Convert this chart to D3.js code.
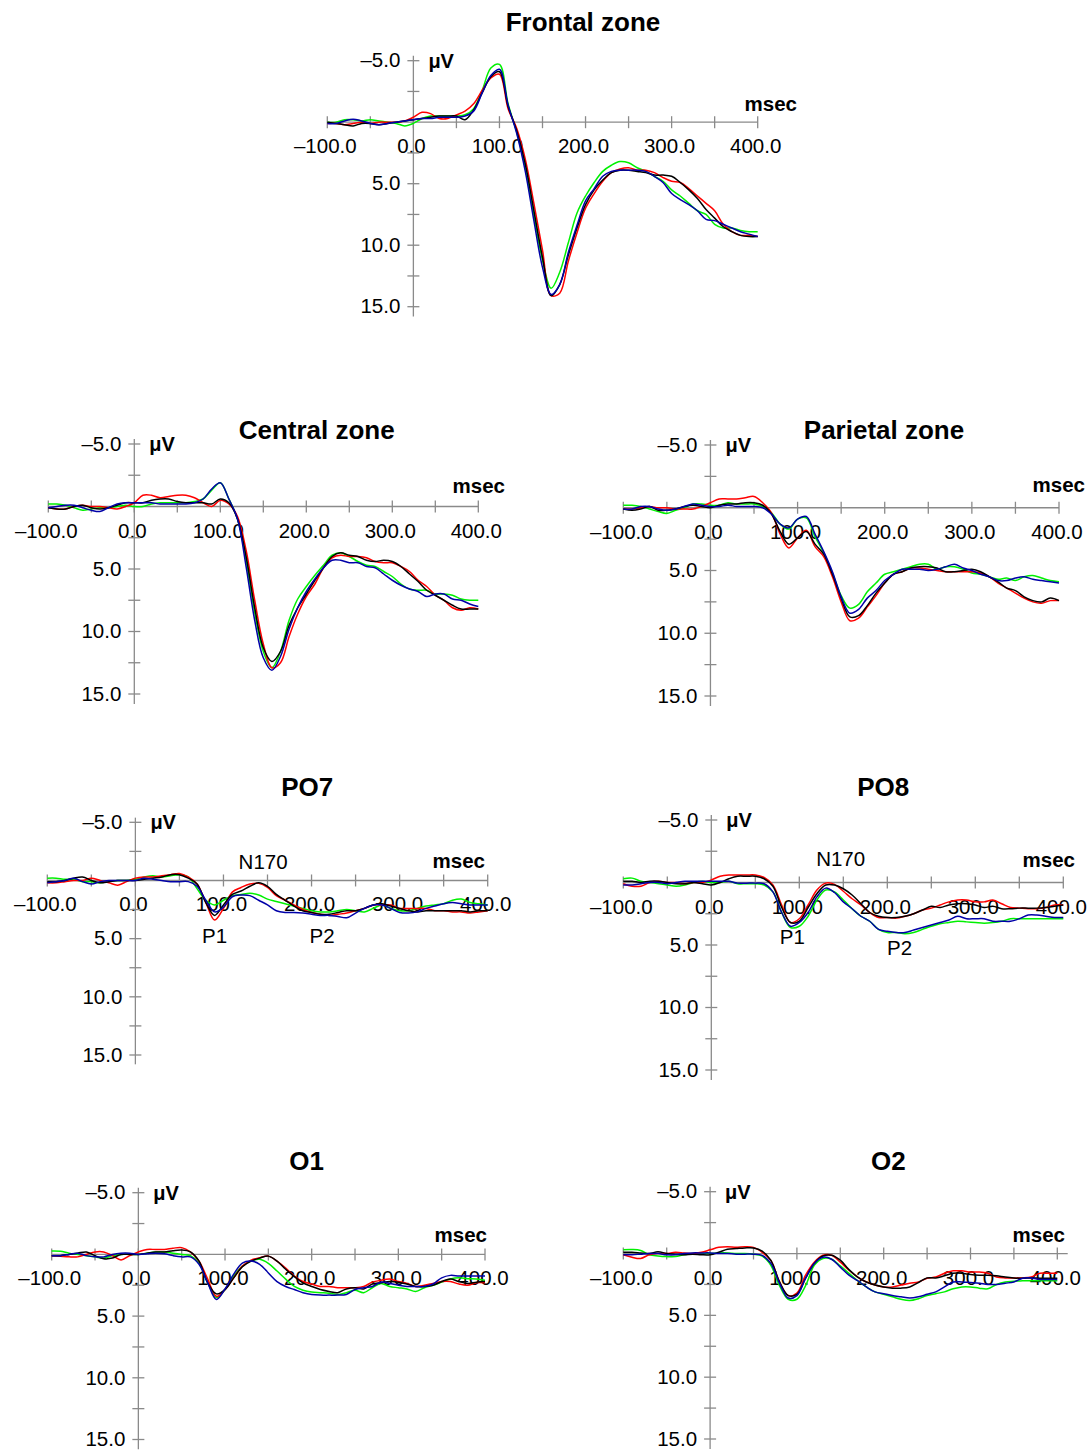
<!DOCTYPE html>
<html>
<head>
<meta charset="utf-8">
<script src="https://cdn.jsdelivr.net/npm/d3@7"></script>
<style>
  body { margin: 0; background: #fff; }
  svg { display: block; }
  text { font-family: "Liberation Sans", Arial, sans-serif; fill: #000; }
</style>
</head>
<body>
<svg id="chart" width="1090" height="1451"></svg>
<script>
// ---------- DATA ----------
const times = [-100,-90,-80,-70,-60,-50,-40,-30,-20,-10,0,10,20,30,40,50,60,70,80,90,100,110,120,130,140,150,160,170,180,190,200,210,220,230,240,250,260,270,280,290,300,310,320,330,340,350,360,370,380,390,400];
const seriesColors = ["#00f000", "#ff0000", "#000000", "#0000a8"]; // green, red, black, blue
const xTickValues = [-100,-50,0,50,100,150,200,250,300,350,400];
const xTickLabels = [-100,0,100,200,300,400];
const yTickValues = [-5,-2.5,2.5,5,7.5,10,12.5,15];
const yTickLabels = [-5,5,10,15];

// Frontal zone
const frontalRed   = [0.1,0.1,0.2,0.1,0.0,0.1,0.0,0.0,0.0,-0.1,-0.4,-0.8,-0.7,-0.3,-0.3,-0.6,-0.9,-1.5,-2.6,-3.6,-3.9,-1.1,0.5,3.0,6.6,10.4,14.1,13.9,11.3,9.0,7.0,5.8,4.8,4.1,3.8,3.7,3.9,3.9,4.1,4.5,4.8,4.9,5.4,6.0,6.6,7.2,8.3,8.9,9.2,9.2,9.3];
const frontalGreen = [0.0,0.0,-0.2,-0.2,-0.1,-0.2,-0.1,0.0,0.1,0.3,0.1,-0.3,-0.5,-0.5,-0.5,-0.5,-0.6,-1.1,-2.6,-4.4,-4.7,-1.5,0.8,3.7,7.6,11.2,13.5,12.2,9.8,7.4,6.0,4.9,4.0,3.5,3.2,3.3,3.7,4.0,4.4,4.8,5.5,6.0,6.6,7.2,7.5,8.3,8.6,8.6,8.8,8.9,8.9];
const frontalBlue  = [0.1,0.1,-0.1,-0.25,-0.1,0.1,0.2,0.1,0.0,-0.1,-0.2,-0.3,-0.3,-0.4,-0.4,-0.4,-0.5,-0.9,-2.4,-3.8,-4.3,-1.4,0.9,4.0,8.0,11.8,14.0,13.2,10.6,8.4,6.4,5.4,4.4,4.0,3.9,3.9,3.9,4.0,4.4,4.9,5.8,6.3,6.7,7.2,7.9,8.0,8.3,8.6,8.9,9.1,9.3];
const frontalBlack = [0.0,0.1,0.2,0.3,0.1,0.1,0.2,0.1,0.0,-0.1,-0.2,-0.3,-0.4,-0.5,-0.5,-0.5,-0.2,-1.0,-2.4,-3.7,-4.1,-1.3,0.7,3.4,7.2,11.0,14.1,13.2,10.8,8.6,6.7,5.5,4.7,4.1,3.9,3.9,4.0,4.1,4.3,4.3,4.4,4.9,5.5,6.2,7.1,7.8,8.5,8.9,9.2,9.3,9.3];

// Central zone
const centralRed   = [0.1,0.2,0.2,0.0,-0.1,0.0,0.0,0.1,0.2,0.0,-0.3,-0.9,-0.9,-0.7,-0.8,-0.9,-0.9,-0.7,-0.3,0.0,-0.5,-0.2,0.8,3.5,7.5,11.0,12.9,12.5,10.4,8.6,7.2,6.2,4.9,4.1,3.9,4.0,4.0,4.1,4.4,4.5,4.5,4.8,5.2,5.9,6.4,7.1,7.5,8.1,8.3,8.1,8.2];
const centralGreen = [-0.2,-0.2,-0.1,0.1,0.3,0.2,0.1,0.1,0.0,-0.1,0.0,0.0,-0.2,-0.3,-0.3,-0.3,-0.3,-0.4,-0.6,-1.3,-1.9,-0.6,1.0,4.3,8.5,11.6,12.9,11.6,9.1,7.4,6.4,5.5,4.7,3.9,3.7,4.0,4.4,4.7,4.8,5.2,5.6,6.2,6.6,6.7,6.7,7.0,7.0,7.1,7.4,7.5,7.5];
const centralBlue  = [0.1,0.0,-0.1,-0.1,0.1,0.3,0.4,0.1,-0.2,-0.3,-0.3,-0.3,-0.3,-0.2,-0.2,-0.2,-0.2,-0.3,-0.6,-1.4,-1.9,-0.6,1.0,4.8,9.1,12.1,13.1,12.0,9.8,8.1,6.8,5.8,4.9,4.3,4.3,4.5,4.5,4.8,4.9,5.4,5.9,6.3,6.6,6.8,7.2,7.0,7.0,7.4,7.5,7.8,8.0];
const centralBlack = [0.1,0.2,0.2,0.0,-0.1,0.1,0.2,0.1,-0.1,-0.3,-0.3,-0.3,-0.5,-0.6,-0.6,-0.4,-0.3,-0.3,-0.3,-0.2,-0.6,-0.3,1.0,4.0,8.1,11.3,12.4,11.6,9.5,8.1,7.0,5.9,4.9,4.0,3.7,3.9,4.0,4.3,4.4,4.3,4.4,4.8,5.4,6.0,6.7,7.1,7.5,7.9,8.2,8.2,8.2];

// Parietal zone
const parietalRed   = [0.1,0.1,0.0,-0.1,0.0,0.0,0.1,0.1,0.1,-0.1,-0.4,-0.7,-0.7,-0.7,-0.8,-0.9,-0.4,0.4,2.1,3.2,2.4,1.8,3.1,3.9,5.5,7.5,9.0,8.8,7.9,7.0,6.0,5.3,5.1,4.8,4.8,4.9,5.0,5.1,5.1,5.1,5.1,5.2,5.5,6.0,6.4,6.8,7.2,7.5,7.6,7.4,7.4];
const parietalGreen = [-0.2,-0.2,-0.1,0.1,0.3,0.45,0.2,0.0,-0.3,-0.3,-0.2,-0.2,-0.4,-0.3,-0.3,-0.3,-0.1,0.4,1.3,1.7,0.9,0.8,2.3,3.6,5.2,7.0,8.0,7.7,6.7,6.0,5.3,5.1,4.9,4.7,4.5,4.5,4.9,4.7,4.7,4.9,5.2,5.3,5.5,5.7,5.6,5.8,5.5,5.4,5.6,5.8,5.9];
const parietalBlue  = [0.1,0.1,-0.1,-0.1,0.1,0.2,0.1,-0.1,-0.3,-0.2,-0.1,-0.1,-0.2,-0.1,-0.1,-0.1,0.0,0.5,1.3,1.6,0.9,0.7,2.1,3.5,5.1,7.1,8.4,8.1,7.2,6.6,5.8,5.3,4.9,4.9,4.9,5.0,4.9,4.7,4.5,4.8,5.0,5.3,5.5,5.8,5.8,5.6,5.5,5.7,5.8,5.9,6.0];
const parietalBlack = [0.1,0.2,0.1,-0.1,0.2,0.2,0.1,-0.1,-0.2,-0.1,0.0,-0.2,-0.3,-0.3,-0.4,-0.4,-0.2,0.5,1.9,2.9,2.4,1.9,2.9,3.7,5.3,7.2,8.7,8.6,7.8,6.8,6.0,5.3,5.1,4.8,4.7,4.7,4.8,5.1,5.1,5.0,4.9,5.1,5.5,5.9,6.4,6.6,7.1,7.4,7.5,7.2,7.4];

// PO7
const po7Red   = [0.2,0.2,0.1,0.0,0.0,-0.2,0.0,0.2,0.4,0.1,-0.2,-0.3,-0.3,-0.4,-0.5,-0.6,-0.3,0.3,1.9,3.4,2.4,1.0,0.6,0.3,0.25,0.6,1.3,1.7,2.1,2.5,2.75,2.9,3.0,2.9,2.8,2.6,2.4,2.1,2.1,2.1,2.4,2.4,2.4,2.4,2.6,2.6,2.7,2.7,2.8,2.7,2.6];
const po7Green = [-0.2,-0.2,-0.1,-0.1,0.1,0.1,0.2,0.1,0.0,0.0,-0.1,-0.3,-0.4,-0.3,-0.4,-0.5,-0.3,0.7,1.7,2.1,1.7,1.3,1.2,1.1,1.25,1.6,1.8,2.0,2.2,2.4,2.6,2.7,2.7,2.6,2.5,2.6,2.7,2.4,2.1,2.4,2.6,2.6,2.4,2.2,2.1,2.0,1.7,1.6,1.9,2.0,2.1];
const po7Blue  = [0.2,0.1,0.0,-0.2,0.1,0.3,0.1,0.0,0.0,0.0,0.0,-0.2,-0.1,0.0,0.1,0.1,0.1,0.5,1.7,2.7,2.3,1.4,1.25,1.3,1.7,2.1,2.6,2.75,2.75,2.8,2.9,3.0,3.0,3.1,3.2,2.8,2.4,2.1,2.1,2.4,2.75,2.8,2.7,2.4,2.2,2.0,1.9,2.0,2.1,2.1,2.1];
const po7Black = [0.1,0.1,0.0,-0.2,-0.3,0.0,0.2,0.1,0.0,0.0,0.0,-0.1,-0.2,-0.3,-0.5,-0.5,-0.2,0.3,1.9,3.0,2.1,1.2,0.9,0.5,0.2,0.5,1.2,1.7,2.2,2.6,2.75,2.9,2.9,2.75,2.6,2.6,2.4,2.1,2.0,2.2,2.4,2.6,2.7,2.6,2.6,2.6,2.6,2.6,2.7,2.6,2.6];

// PO8
const po8Red   = [0.1,0.3,0.3,0.0,-0.1,0.0,0.0,0.1,0.0,0.0,-0.2,-0.5,-0.6,-0.6,-0.6,-0.6,-0.4,0.2,1.8,3.2,2.9,1.8,0.6,0.05,0.15,0.7,1.3,1.8,2.4,2.8,2.8,2.85,2.7,2.5,2.2,2.05,1.8,1.55,1.4,1.4,1.55,1.55,1.4,1.7,2.0,2.05,2.1,2.1,2.0,1.8,1.8];
const po8Green = [-0.3,-0.35,-0.1,0.0,0.1,0.2,0.3,0.2,0.0,-0.1,0.0,0.0,-0.1,0.1,0.1,0.1,0.2,0.75,2.4,3.6,3.5,2.7,1.4,0.6,0.75,1.4,2.1,2.7,3.1,3.75,4.0,4.0,4.1,4.0,3.75,3.5,3.3,3.2,3.1,3.15,3.2,3.25,3.2,3.1,2.9,2.9,2.9,2.9,2.9,2.9,2.9];
const po8Blue  = [0.2,0.2,0.1,0.0,0.0,0.1,0.0,-0.1,-0.1,-0.1,-0.1,-0.1,-0.1,0.05,0.05,0.05,0.1,0.75,2.4,3.5,3.2,2.4,1.15,0.45,0.8,1.55,2.1,2.7,3.1,3.75,3.9,4.0,4.0,3.8,3.6,3.4,3.2,3.0,2.7,2.9,2.9,2.9,3.1,3.1,3.1,2.9,2.6,2.6,2.7,2.8,2.8];
const po8Black = [-0.1,-0.1,0.0,-0.1,-0.1,0.0,0.1,0.1,0.0,0.1,0.2,0.0,-0.3,-0.5,-0.5,-0.5,-0.3,0.3,2.0,3.2,3.1,2.0,0.9,0.2,0.2,0.5,1.0,1.7,2.4,2.7,2.8,2.8,2.7,2.5,2.2,1.9,2.0,1.8,1.7,1.7,1.8,2.0,1.9,2.1,2.1,2.05,2.05,2.05,2.0,1.9,1.8];

// O1
const o1Red   = [0.1,0.15,0.2,0.2,0.0,-0.2,-0.2,0.1,0.45,0.1,-0.2,-0.4,-0.4,-0.4,-0.5,-0.55,-0.2,0.55,2.0,3.4,2.85,1.9,0.95,0.46,0.27,0.14,0.54,1.1,1.75,2.2,2.4,2.6,2.6,2.7,2.7,2.7,2.6,2.25,2.1,2.0,2.2,2.35,2.6,2.5,2.35,2.2,2.2,2.4,2.5,2.3,2.3];
const o1Green = [-0.27,-0.25,-0.1,0.0,0.1,0.2,0.3,0.1,0.0,0.0,0.0,-0.1,-0.2,-0.2,-0.1,0.0,0.1,0.7,2.3,3.5,2.85,1.75,0.95,0.54,0.4,0.73,1.35,2.0,2.6,2.9,3.05,3.1,3.15,3.25,3.1,2.9,3.1,2.7,2.35,2.6,2.7,2.8,3.0,2.7,2.5,2.25,2.0,1.9,1.97,2.0,2.1];
const o1Blue  = [0.1,0.1,0.0,-0.1,0.1,0.2,0.2,0.0,-0.1,-0.1,0.0,-0.05,-0.1,-0.05,0.1,0.2,0.2,0.8,2.3,3.65,2.8,1.6,0.7,0.54,0.8,1.5,2.2,2.6,2.85,3.1,3.25,3.3,3.3,3.3,3.25,2.85,2.7,2.6,2.25,2.35,2.5,2.6,2.6,2.6,2.4,1.9,1.7,1.75,1.75,1.75,1.75];
const o1Black = [0.1,0.1,0.0,-0.1,-0.2,0.1,0.35,0.3,0.0,0.0,0.0,-0.1,-0.2,-0.2,-0.3,-0.35,-0.2,0.55,2.3,3.2,2.85,1.9,1.0,0.54,0.3,0.14,0.54,1.2,1.8,2.3,2.6,2.85,3.0,3.1,2.8,2.7,2.8,2.4,2.3,2.2,2.25,2.4,2.6,2.6,2.5,2.2,2.0,2.2,2.35,2.25,2.2];

// O2
const o2Red   = [0.1,0.3,0.4,0.1,0.0,0.0,-0.1,-0.05,0.0,-0.1,-0.3,-0.5,-0.55,-0.5,-0.55,-0.5,-0.1,0.55,2.3,3.4,3.2,1.75,0.7,0.14,0.14,0.7,1.35,1.9,2.3,2.55,2.7,2.7,2.55,2.4,2.3,2.0,1.9,1.6,1.4,1.4,1.5,1.5,1.6,1.9,1.97,1.97,1.97,1.9,1.6,1.6,1.6];
const o2Green = [-0.3,-0.32,-0.25,0.1,0.2,0.25,0.25,0.1,0.0,0.0,0.0,-0.05,-0.05,0.0,0.0,0.05,0.2,0.95,2.6,3.7,3.7,2.6,0.95,0.4,0.46,1.0,1.6,2.2,2.7,3.1,3.3,3.5,3.7,3.8,3.65,3.4,3.25,3.1,2.85,2.7,2.7,2.8,2.85,2.5,2.3,2.25,2.2,2.2,2.2,2.2,2.2];
const o2Blue  = [0.1,0.1,0.05,0.0,0.0,0.1,0.1,0.0,-0.05,-0.05,-0.05,0.0,0.0,0.05,0.05,0.05,0.15,0.8,2.4,3.6,3.4,2.0,0.8,0.3,0.46,1.1,1.75,2.2,2.7,3.1,3.25,3.4,3.5,3.6,3.5,3.3,3.1,2.7,2.3,2.3,2.35,2.4,2.5,2.5,2.4,2.3,2.0,1.97,2.1,2.1,2.1];
const o2Black = [-0.1,-0.1,-0.05,0.0,-0.15,0.0,0.05,0.1,0.05,0.1,0.1,-0.1,-0.35,-0.4,-0.45,-0.45,-0.2,0.55,2.3,3.4,3.3,2.0,0.8,0.2,0.14,0.54,1.3,1.9,2.3,2.55,2.7,2.8,2.8,2.7,2.35,1.97,1.97,1.8,1.6,1.6,1.7,1.75,1.75,1.8,1.9,1.97,2.0,1.97,2.0,2.0,2.0];

// Peak annotations (time in msec, amplitude in µV)
const po7Peaks = [{label:"N170", t:145, v:-1.0}, {label:"P1", t:90, v:5.4}, {label:"P2", t:212, v:5.4}];
const po8Peaks = [{label:"N170", t:147, v:-1.3}, {label:"P1", t:92, v:4.9}, {label:"P2", t:214, v:5.8}];

// ---------- LAYOUT ----------
const panels = [
  {title:"Frontal zone",  series:[frontalGreen, frontalRed, frontalBlack, frontalBlue],
   box:{x0:327.3, x1:757.7, yTop:60.7, yBot:306.7, axisEnd:400, titleX:583, titleY:31, msecX:797, msecY:110.5}},
  {title:"Central zone",  series:[centralGreen, centralRed, centralBlack, centralBlue],
   box:{x0:48.3, x1:478.3, yTop:444, yBot:694, axisEnd:400, titleX:316.7, titleY:439, msecX:505, msecY:493}},
  {title:"Parietal zone", series:[parietalGreen, parietalRed, parietalBlack, parietalBlue],
   box:{x0:623.3, x1:1059, yTop:445, yBot:696, axisEnd:400, titleX:884, titleY:439, msecX:1085, msecY:492}},
  {title:"PO7", series:[po7Green, po7Red, po7Black, po7Blue], peaks:po7Peaks,
   box:{x0:47.3, x1:487.7, yTop:822.3, yBot:1055, axisEnd:400, titleX:307.3, titleY:796, msecX:485, msecY:868}},
  {title:"PO8", series:[po8Green, po8Red, po8Black, po8Blue], peaks:po8Peaks,
   box:{x0:623.3, x1:1063.3, yTop:820, yBot:1070, axisEnd:400, titleX:883.3, titleY:796, msecX:1075, msecY:867}},
  {title:"O1", series:[o1Green, o1Red, o1Black, o1Blue],
   box:{x0:51.7, x1:485, yTop:1192.7, yBot:1439.5, axisEnd:400, titleX:306.7, titleY:1170, msecX:487, msecY:1242}},
  {title:"O2", series:[o2Green, o2Red, o2Black, o2Blue],
   box:{x0:623.3, x1:1057.3, yTop:1191.7, yBot:1439, axisEnd:412, titleX:888.3, titleY:1170, msecX:1065, msecY:1242}}
];

const fmt = v => (v < 0 ? "\u2013" : "") + Math.abs(v).toFixed(1);
const svg = d3.select("#chart");
const axisColor = "#8a8a8a";

panels.forEach(p => {
  const b = p.box;
  const x = d3.scaleLinear().domain([-100, 400]).range([b.x0, b.x1]);
  const y = d3.scaleLinear().domain([-5, 15]).range([b.yTop, b.yBot]);
  const g = svg.append("g");
  const ax = x(0), ay = y(0);

  // title
  g.append("text").attr("x", b.titleX).attr("y", b.titleY)
    .attr("text-anchor", "middle").attr("font-size", 26).attr("font-weight", "bold").text(p.title);

  // x axis line
  g.append("line").attr("x1", x(-100)).attr("x2", x(b.axisEnd)).attr("y1", ay).attr("y2", ay)
    .attr("stroke", axisColor).attr("stroke-width", 1.3);
  // y axis line
  g.append("line").attr("x1", ax).attr("x2", ax).attr("y1", y(-5.4)).attr("y2", y(15.8))
    .attr("stroke", axisColor).attr("stroke-width", 1.3);

  // x ticks (cross the axis)
  g.selectAll(".xt").data(xTickValues).join("line")
    .attr("x1", d => x(d)).attr("x2", d => x(d)).attr("y1", ay - 6).attr("y2", ay + 6)
    .attr("stroke", axisColor).attr("stroke-width", 1.3);
  g.selectAll(".xl").data(xTickLabels).join("text")
    .attr("x", d => x(d) - 2).attr("y", ay + 31).attr("text-anchor", "middle")
    .attr("font-size", 20.5).text(fmt);

  // y ticks
  g.selectAll(".yt").data(yTickValues).join("line")
    .attr("x1", ax - 6).attr("x2", ax + 6).attr("y1", d => y(d)).attr("y2", d => y(d))
    .attr("stroke", axisColor).attr("stroke-width", 1.3);
  g.selectAll(".yl").data(yTickLabels).join("text")
    .attr("x", ax - 13).attr("y", d => y(d)).attr("dy", "0.33em").attr("text-anchor", "end")
    .attr("font-size", 20.5).text(fmt);

  // unit labels
  g.append("text").attr("x", ax + 15).attr("y", y(-5) + 7)
    .attr("font-size", 20).attr("font-weight", "bold").text("\u03BCV");
  g.append("text").attr("x", b.msecX).attr("y", b.msecY).attr("text-anchor", "end")
    .attr("font-size", 20.5).attr("font-weight", "bold").text("msec");

  // waveforms
  const line = d3.line()
    .x((d, i) => x(times[i]))
    .y(d => y(d))
    .curve(d3.curveCatmullRom.alpha(0.5));
  p.series.forEach((s, i) => {
    g.append("path").attr("d", line(s)).attr("fill", "none")
      .attr("stroke", seriesColors[i]).attr("stroke-width", 1.5)
      .attr("stroke-linejoin", "round");
  });

  // peak annotations
  if (p.peaks) {
    g.selectAll(".pk").data(p.peaks).join("text")
      .attr("x", d => x(d.t)).attr("y", d => y(d.v)).attr("text-anchor", "middle")
      .attr("font-size", 20.5).text(d => d.label);
  }
});
</script>
</body>
</html>
